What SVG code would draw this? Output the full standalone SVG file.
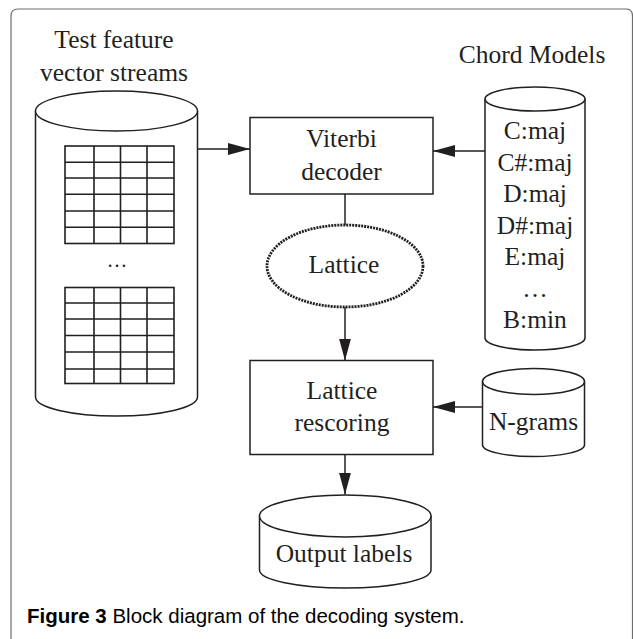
<svg xmlns="http://www.w3.org/2000/svg" width="633" height="639" viewBox="0 0 633 639">
  <style>
    .shape { fill: #ffffff; stroke: #231f20; stroke-width: 1.5; }
    .line { fill: none; stroke: #231f20; stroke-width: 1.5; }
    .grid { fill: none; stroke: #231f20; stroke-width: 1.6; }
    .lbl { font-family: "Liberation Serif", "Times New Roman", serif; font-size: 25.5px; fill: #231f20; text-anchor: middle; }
    .cap { font-family: "Liberation Sans", Arial, sans-serif; font-size: 20.5px; fill: #000000; }
  </style>
  <defs>
    <marker id="arrow" markerUnits="userSpaceOnUse" markerWidth="23" markerHeight="13" refX="22" refY="6" orient="auto">
      <path d="M0,0 L22,6 L0,12 z" fill="#231f20"/>
    </marker>
  </defs>

  <rect width="633" height="639" fill="#ffffff"/>
  <!-- figure frame -->
  <path d="M11,639 L11,16 Q11,9 18,9 L626,9 Q632.5,9 632.5,16 L632.5,639" fill="none" stroke="#6d6d6d" stroke-width="1.2"/>

  <!-- feature vector store -->
  <g id="feature-streams">
    <text class="lbl" x="114" y="48">Test feature</text>
    <text class="lbl" x="114" y="81">vector streams</text>
    <path class="shape" d="M35.5,111 L35.5,397 A81,19 0 0 0 197.5,397 L197.5,111"/>
    <ellipse class="shape" cx="116.5" cy="111" rx="81" ry="20"/>
    <g class="grid">
      <rect x="65" y="146" width="109" height="97.5"/>
      <path d="M94,146 V243.5 M120.5,146 V243.5 M147,146 V243.5 M65,162.3 H174 M65,178 H174 M65,194.3 H174 M65,211 H174 M65,227.3 H174"/>
      <rect x="65" y="287.5" width="109" height="96"/>
      <path d="M94,287.5 V383.5 M120.5,287.5 V383.5 M147,287.5 V383.5 M65,303 H174 M65,319 H174 M65,335.5 H174 M65,352 H174 M65,369 H174"/>
    </g>
    <text class="lbl" x="117" y="267" style="font-size:20.5px">…</text>
  </g>

  <!-- decoder -->
  <g id="viterbi">
    <rect class="shape" x="250" y="117.5" width="183" height="76.5"/>
    <text class="lbl" x="341.5" y="147">Viterbi</text>
    <text class="lbl" x="341.5" y="180">decoder</text>
  </g>

  <!-- chord model store -->
  <g id="chord-models">
    <text class="lbl" x="532" y="63">Chord Models</text>
    <path class="shape" d="M485,99 L485,338 A50,12 0 0 0 585,338 L585,99"/>
    <ellipse class="shape" cx="535" cy="99" rx="50" ry="12"/>
    <text class="lbl" x="535" y="139">C:maj</text>
    <text class="lbl" x="535" y="170.5">C#:maj</text>
    <text class="lbl" x="535" y="202">D:maj</text>
    <text class="lbl" x="535" y="233.5">D#:maj</text>
    <text class="lbl" x="535" y="265">E:maj</text>
    <text class="lbl" x="535" y="296.5">…</text>
    <text class="lbl" x="535" y="328">B:min</text>
  </g>

  <!-- lattice -->
  <g id="lattice">
    <ellipse cx="345" cy="266" rx="78" ry="41" fill="#ffffff" stroke="#231f20" stroke-width="2.8" stroke-dasharray="2 1"/>
    <text class="lbl" x="344" y="273">Lattice</text>
  </g>

  <!-- rescoring -->
  <g id="rescoring">
    <rect class="shape" x="250" y="360.5" width="183" height="94"/>
    <text class="lbl" x="342" y="399">Lattice</text>
    <text class="lbl" x="342" y="431">rescoring</text>
  </g>

  <!-- n-gram store -->
  <g id="ngrams">
    <path class="shape" d="M482.5,381.5 L482.5,445 A51,11.5 0 0 0 584.5,445 L584.5,381.5"/>
    <ellipse class="shape" cx="533.5" cy="381.5" rx="51" ry="13"/>
    <text class="lbl" x="533.5" y="430">N-grams</text>
  </g>

  <!-- output store -->
  <g id="output-labels">
    <path class="shape" d="M259.5,516 L259.5,570 A85.75,18 0 0 0 431,570 L431,516"/>
    <ellipse class="shape" cx="345.25" cy="516" rx="85.75" ry="21"/>
    <text class="lbl" x="344" y="561.5">Output labels</text>
  </g>

  <!-- connectors -->
  <g id="connectors" class="line">
    <line x1="197.5" y1="149" x2="250" y2="149" marker-end="url(#arrow)"/>
    <line x1="485" y1="151" x2="433" y2="151" marker-end="url(#arrow)"/>
    <line x1="345" y1="194" x2="345" y2="225"/>
    <line x1="345" y1="307" x2="345" y2="360.5" marker-end="url(#arrow)"/>
    <line x1="482.5" y1="407" x2="433" y2="407" marker-end="url(#arrow)"/>
    <line x1="345" y1="454.5" x2="345" y2="494.5" marker-end="url(#arrow)"/>
  </g>

  <text class="cap" x="27" y="623"><tspan font-weight="bold">Figure 3</tspan> Block diagram of the decoding system.</text>
</svg>
